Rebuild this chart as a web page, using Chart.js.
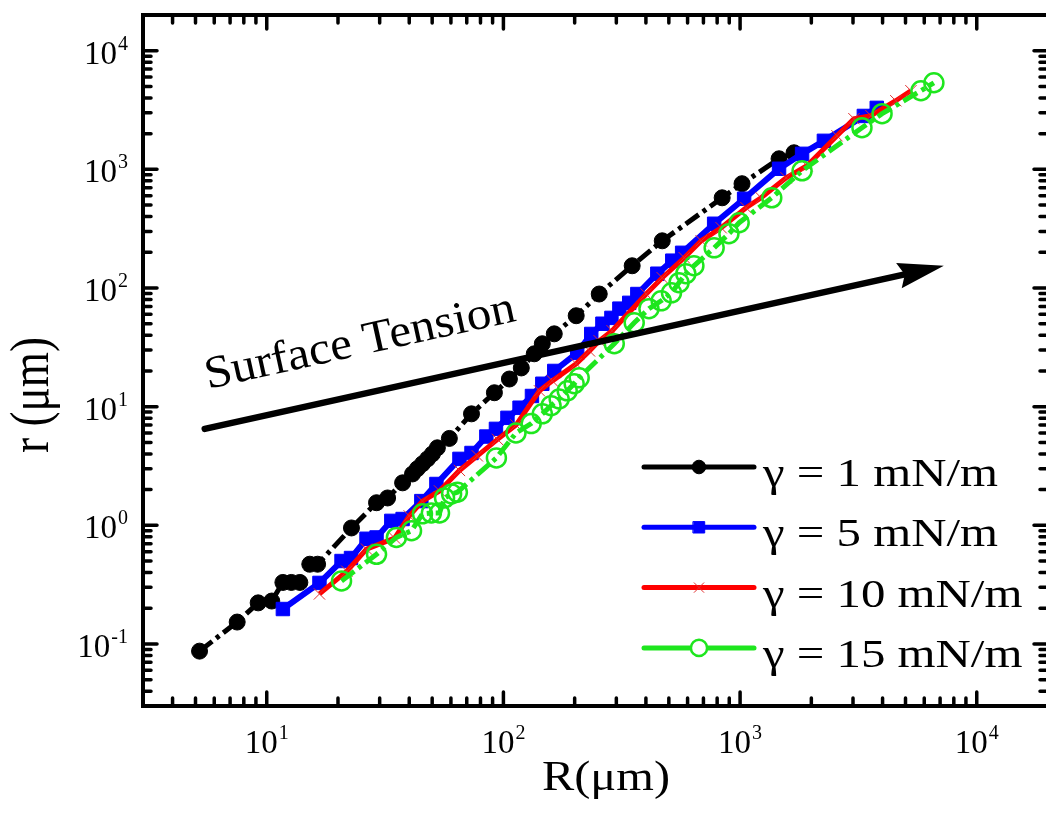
<!DOCTYPE html>
<html>
<head>
<meta charset="utf-8">
<script src="https://cdn.jsdelivr.net/npm/chart.js@4.4.1/dist/chart.umd.min.js"></script>
<style>
  html, body { margin: 0; padding: 0; background: #fff; overflow: hidden; }
  #chart { display: block; }
</style>
</head>
<body>
<canvas id="chart" width="1060" height="828"></canvas>
<script>
const SERIF = '"Times New Roman", "Liberation Serif", Tinos, Times, serif';

// series labels
const seriesNames = ['\u03b3 = 1 mN/m', '\u03b3 = 5 mN/m', '\u03b3 = 10 mN/m', '\u03b3 = 15 mN/m'];

// gamma = 1 mN/m
const R_1 = [5.2, 7.5, 9.2, 10.5, 11.7, 12.7, 13.8, 15.2, 16.4, 22.8, 29.1, 32.4, 37.5, 41.3, 43.3, 45.5, 47.8, 50.1, 52.6, 59.1, 73.3, 91.6, 106, 119, 135, 146, 164, 203, 254, 350, 469, 840, 1019, 1461, 1690];
const r_1 = [0.087, 0.153, 0.222, 0.23, 0.33, 0.33, 0.33, 0.47, 0.47, 0.95, 1.55, 1.7, 2.28, 2.71, 3.0, 3.3, 3.63, 4.0, 4.5, 5.4, 8.7, 13.1, 17.1, 21.2, 27.9, 33.9, 41.1, 58.4, 89, 154, 250, 576, 757, 1228, 1380];

// gamma = 5 mN/m
const R_5 = [11.7, 16.7, 20.7, 22.7, 26.4, 29.1, 33.6, 37.5, 45, 52.1, 65.2, 73.3, 84.7, 93, 104, 117, 132, 146, 164, 205, 235, 262, 286, 309, 340, 368, 447, 517, 569, 777, 1040, 1461, 1828, 2260, 3334, 3780];
const r_5 = [0.197, 0.327, 0.5, 0.53, 0.77, 0.79, 1.09, 1.13, 1.6, 2.23, 3.63, 4.07, 5.6, 6.5, 8.05, 9.8, 12.3, 15.6, 20, 28.4, 41, 50, 56, 67, 75, 89, 132, 170, 198, 348, 565, 1012, 1352, 1740, 2820, 3300];

// gamma = 10 mN/m
const R_10 = [16.7, 21.8, 26.4, 34.7, 40, 45.5, 53.7, 65.2, 77.6, 94.4, 113, 142, 161, 203, 231, 254, 288, 401, 469, 581, 685, 832, 1060, 1227, 1565, 1918, 2567, 3027, 3573, 4550, 5270];
const r_10 = [0.264, 0.41, 0.63, 0.78, 1.2, 1.6, 1.95, 2.9, 3.85, 5.3, 7.0, 13.6, 16.5, 23, 29.5, 35.9, 43.6, 89, 122, 180, 250, 322, 475, 576, 849, 1072, 1919, 2673, 2832, 3787, 4600];

// gamma = 15 mN/m
const R_15 = [20.7, 29.1, 35.3, 40.9, 45.5, 49.6, 53.7, 56.4, 60.4, 63.9, 93.4, 113, 131, 146, 159, 172, 186, 199, 209, 294, 357, 412, 464, 513, 552, 590, 638, 777, 897, 991, 1361, 1828, 3273, 3980, 5810, 6590];
const r_15 = [0.34, 0.57, 0.79, 0.9, 1.25, 1.27, 1.27, 1.7, 1.84, 1.9, 3.7, 6.0, 7.2, 8.7, 10.2, 11.6, 13.6, 15.6, 17.5, 33.9, 51, 67, 78, 91, 111, 132, 154, 218, 287, 355, 576, 973, 2244, 2945, 4600, 5370];

// axes
const xRange = [3, 20000];
const yRange = [0.03, 20000];
const xTicks = [10, 100, 1000, 10000];
const xTickExp = ['1', '2', '3', '4'];
const yTicks = [0.1, 1, 10, 100, 1000, 10000];
const yTickExp = ['-1', '0', '1', '2', '3', '4'];
const xTitle = 'R(\u03bcm)';
const yTitle = 'r (\u03bcm)';

// annotation arrow (data coords)
const arrowText = 'Surface Tension';
const arrowFrom = [5.47, 6.5];
const arrowTo = [7260, 154];
const arrowTextAt = [5.64, 14.1];

function pts(xs, ys) {
  return xs.map((x, i) => ({ x: x, y: ys[i] }));
}

function stretchText(ctx, text, x, y, size, sx, align) {
  ctx.save();
  ctx.font = size + 'px ' + SERIF;
  const w = ctx.measureText(text).width * sx;
  let x0 = x;
  if (align === 'center') x0 = x - w / 2;
  if (align === 'right') x0 = x - w;
  ctx.translate(x0, y);
  ctx.scale(sx, 1);
  ctx.textAlign = 'left';
  ctx.textBaseline = 'alphabetic';
  ctx.fillText(text, 0, 0);
  ctx.restore();
  return w;
}

function powerLabel(ctx, exp, x, y, align) {
  ctx.save();
  ctx.font = '33px ' + SERIF;
  const wb = ctx.measureText('10').width;
  ctx.font = '20px ' + SERIF;
  const we = ctx.measureText(exp).width;
  const total = wb + we + 1;
  let x0 = align === 'right' ? x - total : x - total / 2;
  ctx.fillStyle = '#000';
  ctx.textAlign = 'left';
  ctx.font = '33px ' + SERIF;
  ctx.fillText('10', x0, y);
  ctx.font = '20px ' + SERIF;
  ctx.fillText(exp, x0 + wb + 1, y - 14);
  ctx.restore();
}

function logTicks(min, max) {
  const out = [];
  for (let k = Math.floor(Math.log10(min)); k <= Math.ceil(Math.log10(max)); k++) {
    for (let m = 1; m <= 9; m++) {
      const v = m * Math.pow(10, k);
      if (v >= min * 0.999 && v <= max * 1.001) out.push({ v: v, major: m === 1 });
    }
  }
  return out;
}

const framePlugin = {
  id: 'frame',
  afterDatasetsDraw(chart) {
    const ctx = chart.ctx;
    const xs = chart.scales.x, ys = chart.scales.y;

    // arrow
    const x0 = xs.getPixelForValue(arrowFrom[0]), y0 = ys.getPixelForValue(arrowFrom[1]);
    const x1 = xs.getPixelForValue(arrowTo[0]), y1 = ys.getPixelForValue(arrowTo[1]);
    const ang = Math.atan2(y1 - y0, x1 - x0);
    const headLen = 46, headW = 13;
    ctx.save();
    ctx.strokeStyle = '#000';
    ctx.fillStyle = '#000';
    ctx.lineWidth = 6.5;
    ctx.lineCap = 'round';
    ctx.beginPath();
    ctx.moveTo(x0, y0);
    ctx.lineTo(x1 - Math.cos(ang) * (headLen - 6), y1 - Math.sin(ang) * (headLen - 6));
    ctx.stroke();
    ctx.translate(x1, y1);
    ctx.rotate(ang);
    ctx.beginPath();
    ctx.moveTo(0, 0);
    ctx.lineTo(-headLen, -headW);
    ctx.lineTo(-headLen + 6, 0);
    ctx.lineTo(-headLen, headW);
    ctx.closePath();
    ctx.fill();
    ctx.restore();

    // arrow label
    const tx = xs.getPixelForValue(arrowTextAt[0]), ty = ys.getPixelForValue(arrowTextAt[1]);
    ctx.save();
    ctx.translate(tx, ty);
    ctx.rotate(ang);
    ctx.fillStyle = '#000';
    ctx.font = '46px ' + SERIF;
    const tw = ctx.measureText(arrowText).width;
    stretchText(ctx, arrowText, 0, 0, 46, 317 / tw, 'left');
    ctx.restore();

    // legend
    ctx.save();
    ctx.font = '41px ' + SERIF;
    const sx = 235 / ctx.measureText(seriesNames[0]).width;
    chart.data.datasets.forEach((ds, i) => {
      const ly = 467 + i * 60.3;
      ctx.save();
      ctx.strokeStyle = ds.borderColor;
      ctx.lineWidth = 5;
      ctx.lineCap = 'round';
      ctx.beginPath();
      ctx.moveTo(644, ly);
      ctx.lineTo(754, ly);
      ctx.stroke();
      ctx.fillStyle = ds.pointStyle === 'circle' && ds.pointBackgroundColor === 'transparent' ? '#fff' : ds.pointBackgroundColor;
      ctx.strokeStyle = ds.pointBorderColor;
      ctx.lineWidth = ds.pointBorderWidth;
      Chart.helpers.drawPoint(ctx, {
        pointStyle: ds.pointStyle,
        radius: ds.pointRadius * 0.85,
        rotation: 0,
        borderWidth: ds.pointBorderWidth
      }, 699, ly);
      ctx.restore();
      ctx.fillStyle = '#000';
      stretchText(ctx, ds.label, 763, ly + 19, 41, sx, 'left');
    });
    ctx.restore();
  },
  afterDraw(chart) {
    const ctx = chart.ctx;
    const a = chart.chartArea;
    const xs = chart.scales.x, ys = chart.scales.y;
    ctx.save();
    ctx.strokeStyle = '#000';
    ctx.lineWidth = 4;
    ctx.strokeRect(a.left, a.top, a.right - a.left, a.bottom - a.top);

    ctx.lineWidth = 3.5;
    ctx.lineCap = 'round';
    logTicks(xRange[0], xRange[1]).forEach(t => {
      const px = xs.getPixelForValue(t.v);
      const len = t.major ? 14 : 8;
      ctx.beginPath();
      ctx.moveTo(px, a.bottom); ctx.lineTo(px, a.bottom - len);
      ctx.moveTo(px, a.top); ctx.lineTo(px, a.top + len);
      ctx.stroke();
    });
    logTicks(yRange[0], yRange[1]).forEach(t => {
      const py = ys.getPixelForValue(t.v);
      const len = t.major ? 14 : 8;
      ctx.beginPath();
      ctx.moveTo(a.left, py); ctx.lineTo(a.left + len, py);
      ctx.moveTo(a.right, py); ctx.lineTo(a.right - len, py);
      ctx.stroke();
    });

    // tick labels
    xTicks.forEach((v, i) => powerLabel(ctx, xTickExp[i], xs.getPixelForValue(v), a.bottom + 47, 'center'));
    yTicks.forEach((v, i) => powerLabel(ctx, yTickExp[i], 128, ys.getPixelForValue(v) + 13, 'right'));

    // axis titles
    ctx.fillStyle = '#000';
    ctx.font = '42px ' + SERIF;
    const xw = ctx.measureText(xTitle).width;
    stretchText(ctx, xTitle, 606, 790, 42, 128 / xw, 'center');

    ctx.save();
    ctx.translate(48, 395);
    ctx.rotate(-Math.PI / 2);
    ctx.scale(1, 1.3);
    ctx.font = '42px ' + SERIF;
    const yw = ctx.measureText(yTitle).width;
    stretchText(ctx, yTitle, 0, 0, 42, 116 / yw, 'center');
    ctx.restore();

    ctx.restore();
  }
};

function draw() {
  const canvas = document.getElementById('chart');
  new Chart(canvas, {
    type: 'scatter',
    data: {
      datasets: [
        {
          label: seriesNames[0],
          data: pts(R_1, r_1),
          showLine: true,
          borderColor: '#000000',
          backgroundColor: '#000000',
          borderWidth: 5,
          borderDash: [16, 5, 4, 5],
          pointStyle: 'circle',
          pointRadius: 8,
          pointBorderWidth: 1,
          pointBackgroundColor: '#000000',
          pointBorderColor: '#000000',
          order: 4
        },
        {
          label: seriesNames[1],
          data: pts(R_5, r_5),
          showLine: true,
          borderColor: '#0000ff',
          backgroundColor: '#0000ff',
          borderWidth: 6,
          pointStyle: 'rect',
          pointRadius: 9.5,
          pointBorderWidth: 1,
          pointBackgroundColor: '#0000ff',
          pointBorderColor: '#0000ff',
          order: 3
        },
        {
          label: seriesNames[2],
          data: pts(R_10, r_10),
          showLine: true,
          borderColor: '#ff0000',
          backgroundColor: '#ff0000',
          borderWidth: 5,
          pointStyle: 'crossRot',
          pointRadius: 8,
          pointBorderWidth: 1,
          pointBackgroundColor: '#e03030',
          pointBorderColor: '#e03030',
          order: 2
        },
        {
          label: seriesNames[3],
          data: pts(R_15, r_15),
          showLine: true,
          borderColor: '#1ee61e',
          backgroundColor: '#1ee61e',
          borderWidth: 5,
          borderDash: [16, 5, 4, 5],
          pointStyle: 'circle',
          pointRadius: 9.5,
          pointBorderWidth: 2.5,
          pointBackgroundColor: 'transparent',
          pointBorderColor: '#1ee61e',
          order: 1
        }
      ]
    },
    options: {
      responsive: false,
      animation: false,
      layout: { padding: { left: 143, right: 11, top: 15, bottom: 122 } },
      plugins: {
        legend: { display: false },
        tooltip: { enabled: false }
      },
      scales: {
        x: { type: 'logarithmic', min: xRange[0], max: xRange[1], display: false },
        y: { type: 'logarithmic', min: yRange[0], max: yRange[1], display: false }
      }
    },
    plugins: [framePlugin]
  });
}

if (document.fonts && document.fonts.load) {
  Promise.all([
    document.fonts.load('32px "Liberation Serif"'),
    document.fonts.load('32px "Times New Roman"')
  ]).then(draw, draw);
} else {
  draw();
}
</script>
</body>
</html>
